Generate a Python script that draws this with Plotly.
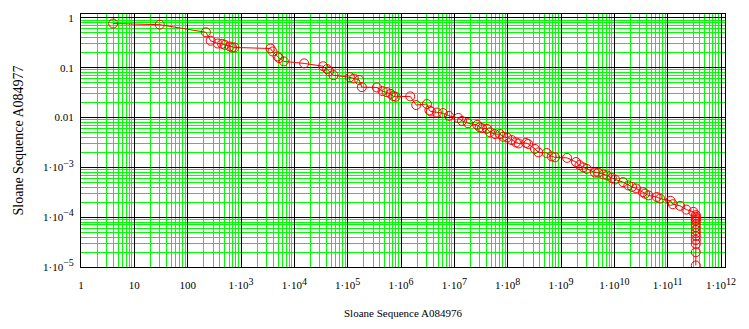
import numpy as np
import plotly.graph_objects as go

# A084976 (x) versus A084977 (y), both on log scales
seq_a084976 = [
    4, 30, 220, 270, 367, 442, 497, 616, 681, 755,
    3575, 3900, 4840, 5190, 6350, 15280, 34700, 41200, 45000, 54300,
    1.10e5, 1.307e5, 1.644e5, 1.846e5, 3.53e5, 4.52e5, 5.37e5, 6.38e5, 7.14e5, 7.92e5,
    1.49e6, 1.93e6, 3.06e6, 3.41e6, 3.64e6, 4.71e6, 6.11e6, 7.92e6, 1.19e7, 1.39e7,
    1.80e7, 2.69e7, 2.99e7, 3.29e7, 4.09e7, 4.66e7, 5.78e7, 7.18e7, 8.26e7, 9.82e7,
    1.19e8, 1.43e8, 1.61e8, 2.20e8, 2.43e8, 3.25e8, 3.75e8, 5.39e8, 6.69e8, 7.71e8,
    1.30e9, 1.91e9, 2.22e9, 2.62e9, 3.03e9, 4.34e9, 5.01e9, 6.22e9, 7.39e9, 8.94e9,
    1.03e10, 1.46e10, 1.83e10, 2.15e10, 2.55e10, 3.41e10, 3.77e10, 4.35e10, 6.24e10, 7.20e10,
    1.13e11, 1.25e11, 1.71e11, 2.24e11, 3.03e11,
    3.37e11, 3.37e11, 3.37e11, 3.37e11, 3.37e11, 3.37e11, 3.37e11, 3.37e11, 3.37e11,
    3.37e11, 3.37e11, 3.37e11, 3.37e11, 3.37e11,
]
seq_a084977 = [
    0.77, 0.73, 0.514, 0.347, 0.306, 0.302, 0.288, 0.267, 0.255, 0.255,
    0.243, 0.212, 0.169, 0.156, 0.134, 0.122, 0.107, 0.0942, 0.0848, 0.0706,
    0.0644, 0.0607, 0.0569, 0.0407, 0.0401, 0.0339, 0.0324, 0.0299, 0.0269, 0.0261,
    0.0266, 0.0178, 0.0187, 0.0139, 0.0132, 0.0126, 0.0123, 0.0108, 0.00982, 0.00855,
    0.00769, 0.00713, 0.00635, 0.00612, 0.00593, 0.00505, 0.00465, 0.00465, 0.00411, 0.00398,
    0.00353, 0.00316, 0.00302, 0.00309, 0.00294, 0.00234, 0.00200, 0.00194, 0.00166, 0.00159,
    0.00155, 0.00128, 0.00111, 0.00100, 0.000933, 0.000787, 0.000780, 0.000719, 0.000687, 0.000612,
    0.000571, 0.000505, 0.000434, 0.000405, 0.000378, 0.000319, 0.000297, 0.000274, 0.000254, 0.000236,
    0.000213, 0.000182, 0.000169, 0.000142, 0.000128,
    1.10e-4, 1.02e-4, 9.55e-5, 8.9e-5, 8.32e-5, 7.26e-5, 6.33e-5, 5.51e-5, 4.80e-5,
    4.19e-5, 3.48e-5, 2.90e-5, 1.98e-5, 1.07e-5,
]

x_exponents = list(range(3, 13))
y_exponents = [-5, -4, -3]


def power_label(exp):
    sign = "−" if exp < 0 else ""
    return f"1·10<sup><span style='font-size:10px'>{sign}{abs(exp)}</span></sup>"


x_tick_vals = [10.0 ** d for d in range(13)]
x_tick_text = ["1", "10", "100"] + [power_label(d) for d in x_exponents]
y_tick_vals = [1e-5, 1e-4, 1e-3, 0.01, 0.1, 1]
y_tick_text = [power_label(d) for d in y_exponents] + ["0.01", "0.1", "1"]

x_minor = [k * 10.0 ** d for d in range(0, 12) for k in range(2, 10)]
y_minor = [k * 10.0 ** d for d in range(-5, 0) for k in range(2, 10)]

FONT = "Liberation Serif"
GREEN = "#00ff00"

fig = go.Figure()
fig.add_trace(go.Scatter(
    x=seq_a084976, y=seq_a084977,
    mode="lines+markers",
    line=dict(color="#ff0000", width=1),
    marker=dict(symbol="circle-open", size=9, color="#ff0000", line=dict(width=1)),
    hoverinfo="x+y",
    showlegend=False,
))

axis_common = dict(
    type="log",
    showline=True, linecolor="black", linewidth=1, mirror=True,
    showgrid=True, gridcolor="black", gridwidth=1,
    ticks="", zeroline=False,
    tickfont=dict(family=FONT, size=11, color="black"),
)

fig.update_xaxes(
    **axis_common,
    range=[0, 12.075],
    tickmode="array", tickvals=x_tick_vals, ticktext=x_tick_text,
    ticklabelstandoff=8,
    minor=dict(tickmode="array", tickvals=x_minor, showgrid=True,
               gridcolor=GREEN, gridwidth=1, ticks=""),
)
fig.update_yaxes(
    **axis_common,
    range=[-5, 0.078],
    tickmode="array", tickvals=y_tick_vals, ticktext=y_tick_text,
    ticklabelstandoff=4,
    minor=dict(tickmode="array", tickvals=y_minor, showgrid=True,
               gridcolor=GREEN, gridwidth=1, ticks=""),
)

fig.update_layout(
    width=749, height=329,
    margin=dict(l=81, r=24, t=12, b=62),
    paper_bgcolor="white", plot_bgcolor="white",
    font=dict(family=FONT, color="black"),
    annotations=[
        dict(text="Sloane Sequence A084976", xref="paper", yref="paper",
             x=0.5, y=0, yshift=-46, showarrow=False, yanchor="middle",
             font=dict(family=FONT, size=11, color="black")),
        dict(text="Sloane Sequence A084977", xref="paper", yref="paper",
             x=0, xshift=-63, y=0.5, textangle=-90, showarrow=False,
             xanchor="center", font=dict(family=FONT, size=14, color="black")),
    ],
)

fig.write_html("out.html")
